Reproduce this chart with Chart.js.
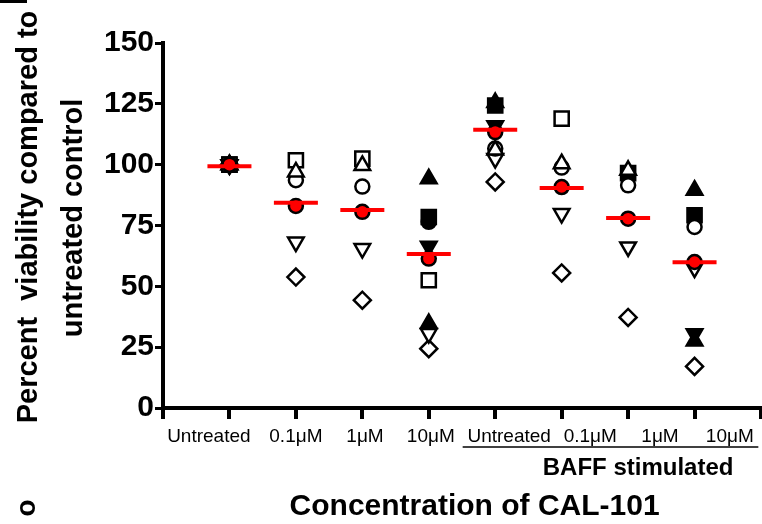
<!DOCTYPE html>
<html>
<head>
<meta charset="utf-8">
<script src="https://cdn.jsdelivr.net/npm/chart.js@4/dist/chart.umd.min.js"></script>
<style>
  html, body { margin: 0; padding: 0; background: #fff; }
</style>
</head>
<body>
<canvas id="grafico_viab" width="762" height="524"></canvas>
<script>
let ctx = document.getElementById('grafico_viab')

// categories along the x axis (group 1..8)
const groupLabels = ['Untreated', '0.1\u03bcM', '1\u03bcM', '10\u03bcM', 'Untreated', '0.1\u03bcM', '1\u03bcM', '10\u03bcM']
const groupX = [1, 2, 3, 4, 5, 6, 7, 8]
// where the text of each label sits (in x units, labels are not exactly under the ticks)
const labelX = [0.69, 2.0, 3.04, 4.03, 5.21, 6.43, 7.48, 8.53]
const yTicks = [0, 25, 50, 75, 100, 125, 150]

// median per group (red bars)
const medians = [99.3, 84.3, 81.4, 63.3, 114.3, 90.4, 78.1, 59.9]

// one array per symbol / patient
const redCircle   = [100, 83, 80.6, 61.4, 113.4, 90.8, 77.8, 60]
const openTri     = [100, 97, 99.7, null, 106, 100.4, 97.7, null]
const openCircle  = [100, 93.6, 91, null, 106.6, 98.8, 91.5, 74.4]
const openSquare  = [100, 101.8, 102.5, 52.5, null, 118.9, null, null]
const openDown    = [100, 68.2, 65.5, 30.6, 102.5, 79.9, 66.2, 57.5]
const openDiamond = [100, 53.8, 44.3, 24.4, 92.9, 55.5, 37.2, 17.1]
const fillSquare  = [100, null, null, 78.5, 124.3, null, 96.5, 79.2]
const fillTri     = [100, null, null, 94.2, 125.5, null, null, 89.5]
const fillDown    = [100, null, null, 66.5, 116, null, null, 30.5]
const fillCircle  = [100, null, null, 76.5, null, null, null, null]
const fillTri2    = [null, null, null, 34.7, null, null, null, 27.5]

const FONT = "'Liberation Sans', Arial, sans-serif"
Chart.defaults.font.family = FONT
Chart.defaults.color = '#000'

function pts(values) {
  const out = []
  values.forEach((v, i) => { if (v !== null) out.push({x: groupX[i], y: v}) })
  return out
}

function serie(values, style, radius, fill) {
  return {
    data: pts(values),
    pointStyle: style,
    pointRadius: radius,
    pointHoverRadius: radius,
    pointBackgroundColor: fill,
    pointBorderColor: '#000',
    pointBorderWidth: 2.5,
    showLine: false
  }
}

const datasets = [
  {
    data: pts(medians),
    pointStyle: 'line',
    pointRadius: 22,
    pointHoverRadius: 22,
    pointBorderColor: '#ff0000',
    pointBorderWidth: 4,
    showLine: false
  },
  serie(redCircle, 'circle', 7, '#ff0000'),
  serie(openTri, 'triangle', 9, '#fff'),
  serie(openCircle, 'circle', 7, '#fff'),
  serie(openSquare, 'rect', 10, '#fff'),
  serie(openDown, 'triangle', 9, '#fff'),
  serie(openDiamond, 'rectRot', 8.5, '#fff'),
  serie(fillSquare, 'rect', 10, '#000'),
  serie(fillTri, 'triangle', 9, '#000'),
  serie(fillDown, 'triangle', 9, '#000'),
  serie(fillCircle, 'circle', 7, '#000'),
  serie(fillTri2, 'triangle', 9, '#000')
]
// downward triangles
datasets[5].pointRotation = 180
datasets[9].pointRotation = 180

// titles, BAFF bracket and bits of the cropped figure
const extras = {
  id: 'extras',
  afterDraw(chart) {
    const c = chart.ctx
    const x = chart.scales.x
    c.save()
    c.fillStyle = '#000'
    c.strokeStyle = '#000'

    // BAFF underline + text
    c.lineWidth = 1.5
    c.beginPath()
    c.moveTo(x.getPixelForValue(4.51), 447)
    c.lineTo(x.getPixelForValue(8.96), 447)
    c.stroke()
    c.textAlign = 'center'
    c.textBaseline = 'alphabetic'
    c.font = 'bold 24px ' + FONT
    c.fillText('BAFF stimulated', x.getPixelForValue(7.15), 475)

    // x title
    c.font = 'bold 30px ' + FONT
    c.fillText('Concentration of CAL-101', x.getPixelForValue(4.69), 515)

    // y title, two lines
    c.font = 'bold 29px ' + FONT
    c.save()
    c.translate(37, 217)
    c.rotate(-Math.PI / 2)
    c.fillText('Percent  viability compared to', 0, 0)
    c.restore()
    c.save()
    c.translate(82, 218)
    c.rotate(-Math.PI / 2)
    c.fillText('untreated control', 0, 0)
    c.restore()

    // cropped pieces at the edge
    c.fillRect(0, 0, 27, 3)
    c.translate(35, 508)
    c.rotate(-Math.PI / 2)
    c.font = 'bold 28px ' + FONT
    c.fillText('o', 0, 0)
    c.restore()
  }
}

function noSidePad(s) {
  s.paddingLeft = 0
  s.paddingRight = 0
}

const config = {
  type: 'scatter',
  data: { datasets },
  options: {
    responsive: false,
    animation: false,
    layout: { autoPadding: false, padding: { top: 43, right: 1, bottom: 0, left: 0 } },
    plugins: { legend: { display: false }, tooltip: { enabled: false } },
    scales: {
      x: {
        type: 'linear', min: 0, max: 9,
        afterBuildTicks: s => { s.ticks = [0, 1, 2, 3, 4, 5, 6, 7, 8, 9].map(v => ({value: v})) },
        ticks: { display: false },
        grid: { drawOnChartArea: false, color: '#000', lineWidth: 4, tickLength: 11 },
        border: { color: '#000', width: 4 },
        afterFit: s => { s.height = 12; noSidePad(s) }
      },
      x2: {
        type: 'linear', position: 'bottom', min: 0, max: 9,
        afterBuildTicks: s => { s.ticks = labelX.map(v => ({value: v})) },
        ticks: {
          callback: (v, i) => groupLabels[i],
          autoSkip: false, maxRotation: 0,
          font: { size: 19 }, color: '#000', padding: 5
        },
        grid: { display: false, drawTicks: false },
        border: { display: false },
        afterFit: s => { s.height = 104; noSidePad(s) }
      },
      y: {
        min: 0, max: 150,
        afterBuildTicks: s => { s.ticks = yTicks.map(v => ({value: v})) },
        ticks: { font: { size: 30, weight: 'bold' }, color: '#000', padding: 1 },
        grid: { drawOnChartArea: false, color: '#000', lineWidth: 3, tickLength: 8 },
        border: { color: '#000', width: 4 },
        afterFit: s => { s.width = 163 }
      }
    }
  },
  plugins: [extras]
}

const graph = new Chart(ctx, config)
</script>
</body>
</html>
